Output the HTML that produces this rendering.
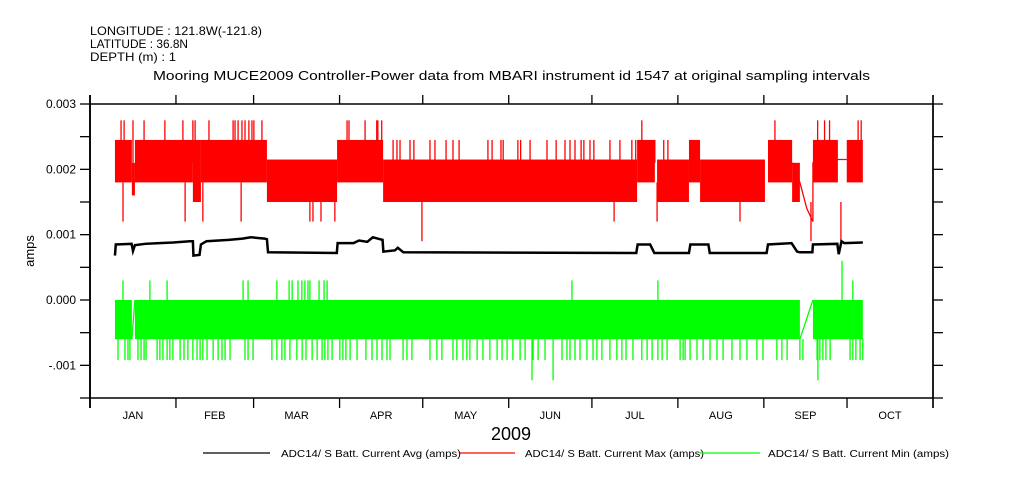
<!DOCTYPE html>
<html><head><meta charset="utf-8"><style>
body{margin:0;background:#fff}
svg{display:block;font-family:"Liberation Sans",sans-serif}
</style></head><body>
<svg id="chart" width="1009" height="504" viewBox="0 0 1009 504">
<g font-size="12" fill="#000">
<text x="90" y="35" textLength="172" lengthAdjust="spacingAndGlyphs">LONGITUDE : 121.8W(-121.8)</text>
<text x="90" y="48" textLength="98" lengthAdjust="spacingAndGlyphs">LATITUDE : 36.8N</text>
<text x="90" y="61" textLength="86" lengthAdjust="spacingAndGlyphs">DEPTH (m) : 1</text>
<text x="153" y="80" font-size="13" textLength="717" lengthAdjust="spacingAndGlyphs">Mooring MUCE2009 Controller-Power data from MBARI instrument id 1547 at original sampling intervals</text>
</g>
<g id="plot"></g>
<g id="axes"></g>
<text x="34" y="251" font-size="13" text-anchor="middle" transform="rotate(-90 34 251)">amps</text>
<text x="511" y="440" font-size="18" text-anchor="middle">2009</text>
<g font-size="10">
<line x1="203" y1="453" x2="270" y2="453" stroke="#000" stroke-width="1.3"/>
<text x="281" y="457" textLength="180" lengthAdjust="spacingAndGlyphs">ADC14/ S Batt. Current Avg (amps)</text>
<line x1="460" y1="453" x2="515" y2="453" stroke="#f00" stroke-width="1.3"/>
<text x="525" y="457" textLength="179" lengthAdjust="spacingAndGlyphs">ADC14/ S Batt. Current Max (amps)</text>
<line x1="700" y1="453" x2="760" y2="453" stroke="#0f0" stroke-width="1.3"/>
<text x="768" y="457" textLength="181" lengthAdjust="spacingAndGlyphs">ADC14/ S Batt. Current Min (amps)</text>
</g>
</svg>
<script>
const monthLabels=["JAN","FEB","MAR","APR","MAY","JUN","JUL","AUG","SEP","OCT"];
const monthStarts=[0,31,59,90,120,151,181,212,243,273,304];
const yTickValues=[-0.0015,-0.001,-0.0005,0,0.0005,0.001,0.0015,0.002,0.0025,0.003];
const yTickLabels={"-0.001":"-.001","0":"0.000","0.001":"0.001","0.002":"0.002","0.003":"0.003"};
const maxBands=[[9,15.1,0.0018,0.00245],[15.1,16.2,0.0016,0.0021],[16.2,37.1,0.0018,0.00245],[37.1,40,0.0015,0.00245],[40,63.8,0.0018,0.00245],[63.8,89.1,0.0015,0.00215],[89.1,105.7,0.0018,0.00245],[105.7,197.3,0.0015,0.00215],[197.3,203.7,0.0018,0.00245],[204.5,216,0.0015,0.00215],[216,220,0.0018,0.00245],[220,243.4,0.0015,0.00215],[244.5,253.2,0.0018,0.00245],[253.2,256,0.0015,0.0021],[260.7,269.7,0.0018,0.00245],[272.9,278.7,0.0018,0.00245]];
const maxLine=[[253.2,0.0021],[256,0.0018],[258.5,0.0014],[260.7,0.0012],[260.7,0.0021],[269.7,0.00215],[272.9,0.00215]];
const maxSpikesHigh=[11.2,12.3,15.5,19.5,27,33.5,37.1,37.9,42.9,51.6,52.3,53.4,54.8,55.9,57.3,58.4,59.1,62,92.7,93.4,99.2,103.4,103.8,105.2,199,247,262.4,264.9,266.7,277,278.1];
const maxSpikesMid=[109.3,110.7,111.8,115.4,116.8,122.6,124.4,128.4,130.9,133.1,143.5,145,148.2,149,154.3,155.3,158.7,164.8,168.1,171.3,173.1,174.9,177.1,178.1,180.3,181.7,187.5,191.1,195.4,196.8,201.9,203.7,206.9,208.4];
const maxSpikesLow=[11.9,34.3,40.7,54.5,79.3,80.4,83.3,88.3,189,204.5,234.4];
const maxSpikesVeryLow=[119.7,260,270.8];
const avgPoints=[[9,0.00068],[9.3,0.00085],[15,0.00086],[15.5,0.00075],[16.2,0.00084],[20,0.00086],[25,0.00087],[30,0.00088],[36,0.0009],[37.1,0.0009],[37.3,0.00068],[39.5,0.00069],[40,0.00085],[42,0.0009],[50,0.00092],[55,0.00094],[58,0.00096],[63,0.00094],[63.8,0.00093],[64.2,0.00073],[89,0.00072],[89.3,0.00087],[95,0.00087],[97,0.00091],[100,0.00089],[102,0.00096],[105.5,0.00092],[105.8,0.00074],[110,0.00076],[111,0.0008],[113,0.00073],[197,0.00072],[197.5,0.00085],[202,0.00085],[203.5,0.00072],[216,0.00072],[216.5,0.00085],[223,0.00085],[223.5,0.00072],[244,0.00072],[244.5,0.00085],[253,0.00087],[255,0.00074],[256,0.00073],[260.5,0.00073],[260.7,0.00085],[269.5,0.00086],[270,0.0007],[271,0.0009],[272,0.00087],[278.7,0.00088]];
const minBands=[[9,15.1,-0.0006,0],[16.2,256,-0.0006,0],[260.7,278.7,-0.0006,0]];
const minLine=[[15.1,-0.0006],[16.2,0],[256,-0.0006],[260.7,0]];
const minSpikesUp=[11.9,21.6,27.8,55.2,57,67.4,71.8,72.9,75,76.4,77.5,78.6,79.3,82.6,84.4,85.5,173.8,204.8,275.1];
const minSpikesUpHigh=[271.2];
const minSpikesDeep=[159.4,167,262.5];
const minSpikesDown=[10.1,12.6,13.7,14.4,17.3,18.4,19.5,20.2,24.2,25.2,26.3,27.8,28.8,29.9,32.5,33.9,35.3,37.1,38.6,39.7,40.7,42.2,44.4,46.2,47.6,48.7,50.5,55.9,57,58.8,65.6,67.4,69.2,70.3,72.1,74.6,76.5,77.9,80.1,81.9,83.7,84.7,85.8,87.3,90.1,91.2,92.3,93.8,96.3,99.5,101.7,103.5,105.3,107.1,108.2,112.9,114.3,116.1,122.6,125.1,126.9,130.9,132.3,134.5,135.9,137,139.6,141.7,144.2,146.8,148.6,150.4,152.5,155.1,156.9,159.8,161.6,164.1,170.2,172,173.1,174.9,176.7,179.2,181.4,182.8,184.6,187.5,190,191.8,193.3,195.8,199,200.9,202.7,204.8,206.3,208.1,212.8,213.9,214.6,216.4,218.9,221.1,223.6,226.1,228.3,231.5,234.4,236.9,240.5,242.7,247.7,249.5,251.4,256,257.1,262.2,263.2,264.3,265.4,266.9,274.1,275.1,276.2,277.7,278.7];

const NS="http://www.w3.org/2000/svg";
const xS=d=>90+d*2.773;
const yS=v=>300-v*65333;
function mk(tag,parent,attrs){const e=document.createElementNS(NS,tag);for(const k in attrs)e.setAttribute(k,attrs[k]);parent.appendChild(e);return e;}
const plot=document.getElementById('plot');
const axes=document.getElementById('axes');

function band(b,color,name){
  const r=mk('rect',plot,{x:xS(b[0]),y:yS(b[3]),width:Math.max(0.8,xS(b[1])-xS(b[0])),height:yS(b[2])-yS(b[3]),fill:color});
  
  
}
function spike(d,from,to,color,name){
  const l=mk('line',plot,{x1:xS(d),x2:xS(d),y1:yS(from),y2:yS(to),stroke:color,'stroke-width':1.3});
  
  
}
function poly(pts,color,w,name){
  const p=mk('polyline',plot,{points:pts.map(q=>xS(q[0])+','+yS(q[1])).join(' '),fill:'none',stroke:color,'stroke-width':w});
  
  
}
maxBands.forEach(b=>band(b,'#f00','max-band'));
poly(maxLine,'#f00',1.3,'max-line');
maxSpikesHigh.forEach(d=>spike(d,0.0021,0.00275,'#f00','max-spike'));
maxSpikesMid.forEach(d=>spike(d,0.0021,0.00245,'#f00','max-spike'));
maxSpikesLow.forEach(d=>spike(d,0.0018,0.0012,'#f00','max-spike'));
maxSpikesVeryLow.forEach(d=>spike(d,0.0015,0.0009,'#f00','max-spike'));
minBands.forEach(b=>band(b,'#0f0','min-band'));
poly(minLine.slice(0,2),'#0f0',1.3,'min-line');
poly(minLine.slice(2),'#0f0',1.3,'min-line');
minSpikesUp.forEach(d=>spike(d,0,0.0003,'#0f0','min-spike'));
minSpikesUpHigh.forEach(d=>spike(d,0,0.0006,'#0f0','min-spike'));
minSpikesDown.forEach(d=>spike(d,-0.0006,-0.00092,'#0f0','min-spike'));
minSpikesDeep.forEach(d=>spike(d,-0.0006,-0.00123,'#0f0','min-spike'));
poly(avgPoints,'#000',2.5,'avg-line');

const fr=mk('rect',axes,{x:90,y:104,width:843,height:294,fill:'none',stroke:'#000','stroke-width':1.5});


mk('line',axes,{x1:90,x2:90,y1:95,y2:408,stroke:'#000','stroke-width':1.8});
mk('line',axes,{x1:933,x2:933,y1:95,y2:408,stroke:'#000','stroke-width':1.5});
yTickValues.forEach(v=>{
  const y=yS(v);
  const t=mk('line',axes,{x1:80,x2:90,y1:y,y2:y,stroke:'#000','stroke-width':1.3});
  
  
  mk('line',axes,{x1:933,x2:943,y1:y,y2:y,stroke:'#000','stroke-width':1.3});
  const key=String(Math.round(v*10000)/10000);
  if(yTickLabels[key]!==undefined){
    const tx=mk('text',axes,{x:76,y:y+4,'text-anchor':'end','font-size':12});
    tx.textContent=yTickLabels[key];
    
    
  }
});
monthStarts.forEach(d=>{
  const x=xS(d);
  const t=mk('line',axes,{x1:x,x2:x,y1:398,y2:408,stroke:'#000','stroke-width':1.3});
  
  
  mk('line',axes,{x1:x,x2:x,y1:95,y2:104,stroke:'#000','stroke-width':1.3});
});
monthLabels.forEach((m,i)=>{
  const x=(xS(monthStarts[i])+xS(monthStarts[i+1]))/2;
  const tx=mk('text',axes,{x:x,y:419,'text-anchor':'middle','font-size':11});
  tx.textContent=m;
  
  
});
</script>
</body></html>
